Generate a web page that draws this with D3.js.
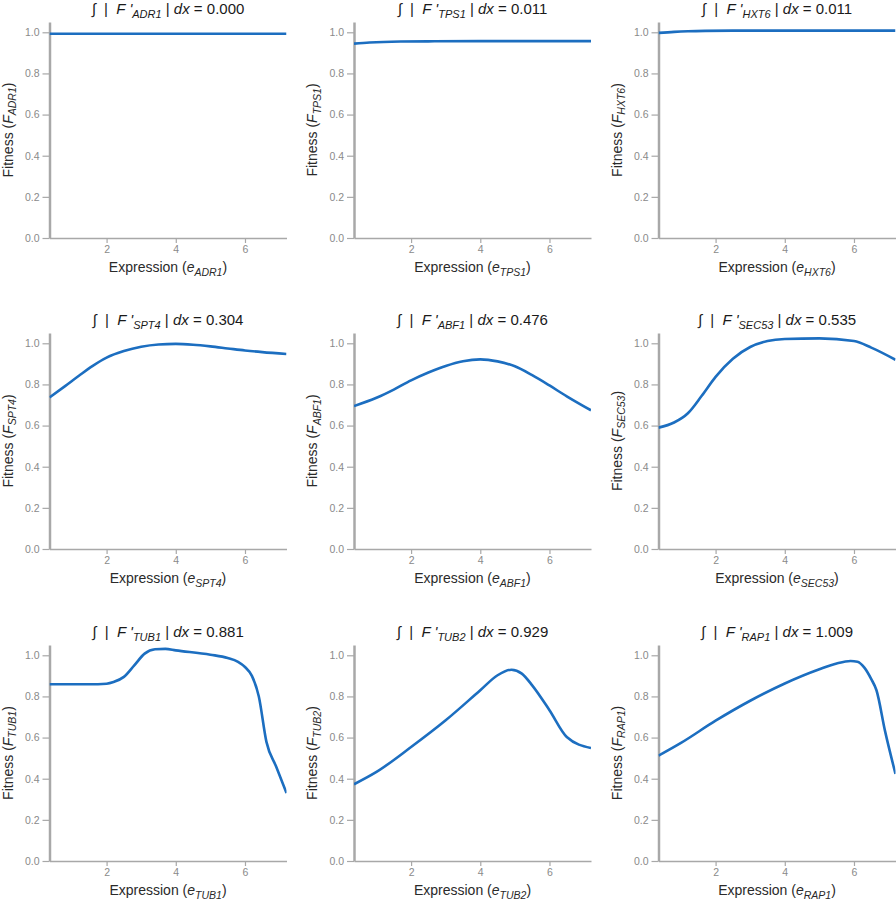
<!DOCTYPE html>
<html>
<head>
<meta charset="utf-8">
<script src="https://cdn.jsdelivr.net/npm/d3@7"></script>
<style>
  html, body { margin: 0; padding: 0; background: #fff; }
  svg { display: block; font-family: "Liberation Sans", Arial, Helvetica, sans-serif; }
  .ttl { white-space: pre; }
</style>
</head>
<body>
<svg id="chart" width="896" height="900"></svg>
<script>
// ---------- data ----------
const genes = ["ADR1", "TPS1", "HXT6", "SPT4", "ABF1", "SEC53", "TUB1", "TUB2", "RAP1"];
const integrals = ["0.000", "0.011", "0.011", "0.304", "0.476", "0.535", "0.881", "0.929", "1.009"];
const xTicks = [2, 4, 6];
const yTicks = [0.0, 0.2, 0.4, 0.6, 0.8, 1.0];
const xDomain = [0.35, 7.2];
const yDomain = [0, 1.05];

const eADR1 = [0.35, 2.0, 4.0, 6.0, 7.2];
const fADR1 = [0.993, 0.993, 0.993, 0.993, 0.993];

const eTPS1 = [0.35, 0.8, 1.2, 1.7, 2.5, 4.0, 5.5, 7.2];
const fTPS1 = [0.945, 0.950, 0.953, 0.955, 0.956, 0.957, 0.957, 0.957];

const eHXT6 = [0.35, 0.8, 1.2, 1.7, 2.5, 4.0, 5.5, 7.2];
const fHXT6 = [0.997, 1.002, 1.005, 1.007, 1.008, 1.008, 1.008, 1.008];

const eSPT4 = [0.35, 0.8, 1.2, 1.6, 2.0, 2.5, 3.0, 3.5, 4.0, 4.5, 5.0, 5.5, 6.0, 6.5, 7.2];
const fSPT4 = [0.737, 0.792, 0.842, 0.89, 0.93, 0.962, 0.983, 0.994, 0.997, 0.993, 0.985, 0.975, 0.965, 0.957, 0.948];

const eABF1 = [0.35, 1.0, 1.5, 2.0, 2.5, 3.0, 3.5, 4.0, 4.5, 5.0, 5.5, 6.0, 6.5, 7.2];
const fABF1 = [0.695, 0.735, 0.775, 0.82, 0.858, 0.89, 0.913, 0.922, 0.912, 0.888, 0.845, 0.795, 0.742, 0.674];

const eSEC53 = [0.35, 0.8, 1.2, 1.6, 2.0, 2.5, 3.0, 3.5, 4.0, 5.0, 6.0, 6.5, 7.2];
const fSEC53 = [0.59, 0.615, 0.66, 0.745, 0.837, 0.925, 0.982, 1.011, 1.021, 1.024, 1.011, 0.979, 0.92];

const eTUB1 = [0.35, 1.0, 1.5, 2.0, 2.2, 2.5, 2.8, 3.1, 3.4, 3.7, 4.0, 5.0, 5.5, 5.8, 6.0, 6.2, 6.4, 6.62, 6.9, 7.2];
const fTUB1 = [0.859, 0.859, 0.859, 0.862, 0.87, 0.895, 0.951, 1.008, 1.029, 1.031, 1.024, 1.003, 0.987, 0.968, 0.943, 0.9, 0.8, 0.579, 0.459, 0.33];

const eTUB2 = [0.35, 1.0, 2.0, 3.0, 4.0, 4.5, 4.9, 5.2, 5.5, 6.0, 6.5, 7.2];
const fTUB2 = [0.373, 0.433, 0.554, 0.684, 0.83, 0.903, 0.93, 0.911, 0.854, 0.733, 0.603, 0.549];

const eRAP1 = [0.35, 1.0, 2.0, 3.0, 4.0, 5.0, 5.5, 5.9, 6.1, 6.3, 6.5, 6.65, 6.9, 7.2];
const fRAP1 = [0.512, 0.574, 0.682, 0.779, 0.863, 0.932, 0.96, 0.972, 0.969, 0.94, 0.884, 0.83, 0.63, 0.423];

const seriesE = [eADR1, eTPS1, eHXT6, eSPT4, eABF1, eSEC53, eTUB1, eTUB2, eRAP1];
const seriesF = [fADR1, fTPS1, fHXT6, fSPT4, fABF1, fSEC53, fTUB1, fTUB2, fRAP1];

// ---------- layout ----------
const colLeft = [49.5, 354, 658.5];
const rowTop = [22, 333, 645];
const W = 237, H = 216;
const lineColor = "#1c6ec0";
const axisColor = "#a8a8a8";
const tickTextColor = "#8a8a8a";

const svg = d3.select("#chart");

genes.forEach((g, i) => {
  const col = i % 3, row = Math.floor(i / 3);
  const gp = svg.append("g").attr("transform", `translate(${colLeft[col]},${rowTop[row]})`);
  const x = d3.scaleLinear().domain(xDomain).range([0, W]);
  const y = d3.scaleLinear().domain(yDomain).range([H, 0]);

  // clip
  gp.append("clipPath").attr("id", "clip" + i)
    .append("rect").attr("x", 0).attr("y", -5).attr("width", W).attr("height", H + 5);

  // x axis
  const xa = gp.append("g").attr("transform", `translate(0,${H})`)
    .call(d3.axisBottom(x).tickValues(xTicks).tickFormat(d3.format("d")).tickSize(5).tickSizeOuter(0).tickPadding(3));
  xa.select(".domain").attr("stroke", axisColor).attr("stroke-width", 1.5);
  xa.selectAll(".tick line").attr("stroke", axisColor).attr("stroke-width", 1.2);
  xa.selectAll(".tick text").attr("fill", tickTextColor).attr("font-size", 10.5)
    .attr("font-family", "Liberation Sans, Arial, sans-serif");

  // y axis
  const ya = gp.append("g")
    .call(d3.axisLeft(y).tickValues(yTicks).tickFormat(d3.format(".1f")).tickSize(7).tickSizeOuter(0).tickPadding(3));
  ya.select(".domain").attr("stroke", axisColor).attr("stroke-width", 2.5);
  ya.selectAll(".tick line").attr("stroke", axisColor).attr("stroke-width", 1.2);
  ya.selectAll(".tick text").attr("fill", tickTextColor).attr("font-size", 10.5)
    .attr("font-family", "Liberation Sans, Arial, sans-serif");

  // line
  const pts = seriesE[i].map((e, k) => [e, seriesF[i][k]]);
  gp.append("path")
    .attr("clip-path", `url(#clip${i})`)
    .datum(pts)
    .attr("fill", "none")
    .attr("stroke", lineColor)
    .attr("stroke-width", 2.6)
    .attr("stroke-linejoin", "round")
    .attr("d", d3.line().x(d => x(d[0])).y(d => y(d[1])).curve(d3.curveMonotoneX));

  // title
  const t = gp.append("text")
    .attr("class", "ttl")
    .attr("x", W / 2).attr("y", -8)
    .attr("text-anchor", "middle")
    .attr("font-size", 15).attr("fill", "#1a1a1a");
  t.append("tspan").text("\u222B  |  ");
  t.append("tspan").attr("font-style", "italic").text("F '");
  t.append("tspan").attr("font-style", "italic").attr("font-size", 11).attr("dy", 4).text(g);
  t.append("tspan").attr("dy", -4).text(" | ");
  t.append("tspan").attr("font-style", "italic").text("dx");
  t.append("tspan").text(" = " + integrals[i]);

  // x label
  const xl = gp.append("text")
    .attr("x", W / 2).attr("y", H + 34)
    .attr("text-anchor", "middle")
    .attr("font-size", 14).attr("fill", "#2a2a2a");
  xl.append("tspan").text("Expression (");
  xl.append("tspan").attr("font-style", "italic").text("e");
  xl.append("tspan").attr("font-style", "italic").attr("font-size", 10.5).attr("dy", 3.5).text(g);
  xl.append("tspan").attr("dy", -3.5).text(")");

  // y label
  const yl = gp.append("text")
    .attr("transform", `translate(-37,${H / 2}) rotate(-90)`)
    .attr("text-anchor", "middle")
    .attr("font-size", 14).attr("fill", "#2a2a2a");
  yl.append("tspan").text("Fitness (");
  yl.append("tspan").attr("font-style", "italic").text("F");
  yl.append("tspan").attr("font-style", "italic").attr("font-size", 10.5).attr("dy", 3.5).text(g);
  yl.append("tspan").attr("dy", -3.5).text(")");
});
</script>
</body>
</html>
